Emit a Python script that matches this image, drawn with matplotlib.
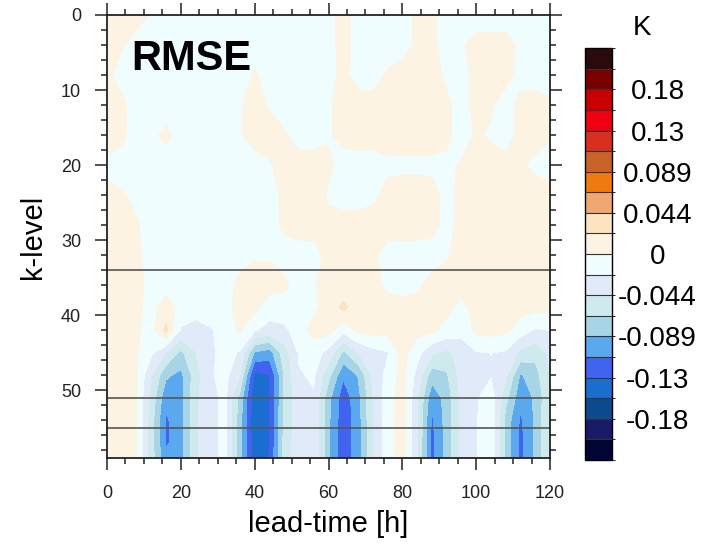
import numpy as np
import matplotlib.pyplot as plt
import matplotlib.transforms as mtransforms
from matplotlib.colors import ListedColormap, BoundaryNorm

plt.rcParams['font.family'] = ['Liberation Sans', 'DejaVu Sans']

# sampling of the field (lead-time in h, model k-levels)
lead_time = np.arange(0, 121, 4)
k_level = [0, 4, 8, 12, 16, 20, 24, 28, 32, 36, 39, 42, 45, 48, 51, 54, 57, 59]

# RMSE difference in mK, one row per k-level, one column per lead-time
rmse_mK = [
    [8, 8, 8, -2, -8, -8, -8, -8, -8, -8, -8, -8, -8, -8, -8, -8, 8, -8, -8, -8, -8, 4, 4, -8, -8, -8, -8, -8, -8, -8, -8],
    [8, 2, -8, -8, -8, -8, -8, -8, -8, -8, -8, -8, -8, -8, -8, -8, 8, -8, -8, -8, -8, 4, 4, -8, -2, 6, 6, 6, -4, -8, -8],
    [4, -8, -8, -8, -8, -8, -8, -8, -8, -8, 2, -8, -8, -8, -8, -8, 6, -8, -8, 2, 8, 8, 8, -4, -8, 6, 4, 6, -6, -8, -8],
    [8, 4, -8, -8, -8, -8, -8, -8, -8, -2, 8, -2, -8, -8, -8, -2, 6, 8, 8, 8, 8, 8, 8, 4, -8, 6, 2, -8, 6, 8, 2],
    [8, 4, -8, -4, 4, -8, -8, -8, -8, -2, 8, 8, 2, -8, -8, -2, 6, 8, 8, 8, 8, 8, 8, 4, -8, 2, -2, -8, 6, 8, 2],
    [-4, -8, -8, -8, -8, -8, -8, -8, -8, -8, -8, -2, 8, 8, 8, 4, -8, -8, -8, -4, -4, -4, -4, -4, 2, 6, 6, 6, 2, -4, -8],
    [4, 2, -4, -8, -8, -8, -8, -8, -8, -8, -8, -8, 4, 8, 8, -2, -8, -8, -4, 6, 8, 8, 6, -6, 6, 8, 8, 8, 8, 8, 6],
    [8, 4, 2, -8, -8, -8, -8, -8, -8, -8, -8, -8, 4, 8, 8, 4, 8, 8, 8, 8, 8, 8, 6, -6, 6, 8, 8, 8, 8, 8, 6],
    [8, 8, 4, -8, -8, -8, -8, -8, -8, -8, -2, -2, -8, -8, -8, 6, 8, 8, 4, -8, -8, -8, -8, -2, 8, 8, 8, 8, 8, 8, 8],
    [8, 8, 6, -6, -8, -8, -8, -8, -8, 6, 8, 8, 4, -8, -2, 8, 8, 8, 6, -4, -8, -4, 6, 8, 8, 8, 8, 8, 8, 8, 8],
    [8, 8, 5, -8, 10, -8, -12, -8, -6, 6, 6, -12, -8, -8, -4, 8, 28, 8, 8, 8, 8, 8, 8, 6, -6, 8, 8, 8, 8, 6, 6],
    [8, 8, 3, -8, 28, -25, -32, -25, -12, 3, -20, -30, -28, -10, 8, 8, -15, 5, 8, 8, 8, 8, 5, -8, -15, 5, 8, 5, -12, -25, -22],
    [8, 6, 2, -18, -45, -72, -45, -28, -12, -25, -92, -100, -55, -20, -12, -30, -72, -45, -30, -24, 8, -15, -40, -50, -35, -24, -22, -25, -50, -60, -40],
    [8, 6, 0, -42, -85, -95, -55, -25, -15, -45, -140, -135, -65, -24, -20, -60, -108, -88, -40, -15, 8, -30, -80, -70, -35, -25, -24, -40, -92, -75, -45],
    [8, 6, 0, -52, -105, -98, -50, -28, -18, -75, -150, -135, -65, -30, -24, -82, -124, -98, -45, -10, 10, -40, -105, -80, -38, -25, -10, -60, -105, -85, -45],
    [8, 6, 0, -57, -114, -100, -48, -28, -18, -80, -152, -135, -62, -30, -24, -85, -126, -100, -45, -10, 10, -42, -115, -80, -38, -24, -5, -75, -115, -85, -42],
    [8, 6, 0, -57, -114, -100, -48, -28, -18, -80, -150, -135, -60, -30, -24, -85, -126, -100, -45, -10, 10, -42, -118, -80, -38, -24, -5, -75, -118, -85, -42],
    [8, 6, 0, -57, -105, -98, -48, -28, -18, -80, -150, -132, -60, -30, -24, -85, -126, -100, -45, -10, 10, -42, -118, -80, -38, -24, -5, -75, -118, -85, -42],
]

# marked k-levels
hline_k = [34, 51, 55]

# colour table (low -> high)
colors = ['#000533', '#1a1a6a', '#0e4a90', '#1a6ed0', '#4262f0', '#5aa8ee',
          '#a8d5e5', '#cfeaec', '#e0eaf8', '#effdfe', '#fdf3e3', '#fde4c0',
          '#f0a870', '#f07a10', '#c86428', '#d83020', '#f00010', '#c80000',
          '#7a0000', '#2a0a0a']
cbar_ticks = [-0.1778, -0.1333, -0.0889, -0.0444, 0, 0.0444, 0.0889, 0.1333, 0.1778]
cbar_labels = ['-0.18', '-0.13', '-0.089', '-0.044', '0', '0.044', '0.089', '0.13', '0.18']

levels = np.arange(-10, 11) * 0.2 / 9
rmse = np.array(rmse_mK) / 1000.0

fig = plt.figure(figsize=(7.08, 5.47), dpi=100)
ax = fig.add_axes([0.151, 0.1627, 0.626, 0.81])

cmap = ListedColormap(colors)
norm = BoundaryNorm(levels, cmap.N)
cf = ax.contourf(lead_time, k_level, rmse, levels=levels, cmap=cmap, norm=norm)

for k in hline_k:
    ax.axhline(k, color='#555555', lw=1.2)

ax.set_xlim(0, 120)
ax.set_ylim(59, 0)
ax.set_xticks(np.arange(0, 121, 20))
ax.set_xticks(np.arange(0, 121, 5), minor=True)
ax.set_yticks(np.arange(0, 51, 10))
ax.set_yticks(np.arange(0, 59, 2), minor=True)
ax.tick_params(which='both', direction='out', top=True, right=True, width=1.1, colors='#222222')
ax.tick_params(which='major', length=8.5, labelsize=13)
ax.tick_params(which='minor', length=4)
ax.tick_params(axis='y', pad=10)
ax.tick_params(axis='x', pad=11)
for s in ax.spines.values():
    s.set_linewidth(1.3)
    s.set_color('#222222')

ax.set_xlabel('lead-time [h]', fontsize=21, labelpad=6)
ax.set_ylabel('k-level', fontsize=21, labelpad=10)
trans = mtransforms.blended_transform_factory(ax.transAxes, ax.transData)
ax.text(0.056, 7.3, 'RMSE', fontsize=30, fontweight='bold', transform=trans,
        ha='left', va='baseline')

cax = fig.add_axes([0.826, 0.159, 0.038, 0.753])
cb = fig.colorbar(cf, cax=cax, ticks=cbar_ticks, drawedges=True)
cb.ax.set_yticklabels(cbar_labels)
cb.outline.set_linewidth(1.0)
cb.dividers.set_color('#333333')
cb.dividers.set_linewidth(0.8)
cb.ax.tick_params(length=0, labelsize=20, pad=33)
for lab in cb.ax.get_yticklabels():
    lab.set_ha('center')
fig.text(0.907, 0.949, 'K', fontsize=20, ha='center', va='center')

fig.savefig('out.png', dpi=100)
